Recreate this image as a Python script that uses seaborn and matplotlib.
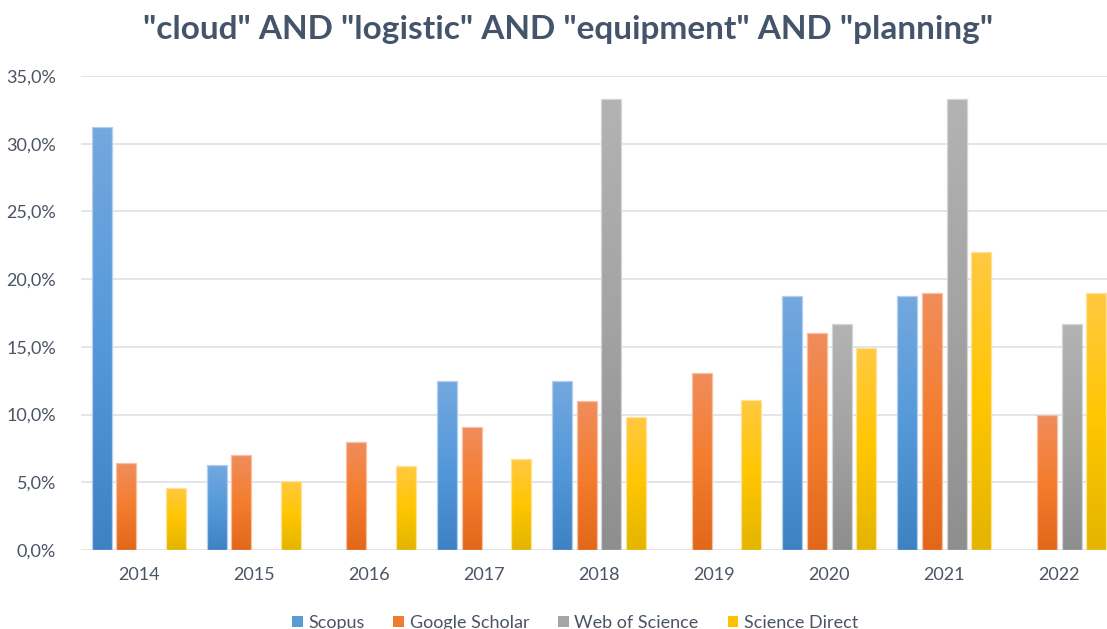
import numpy as np
import pandas as pd
import matplotlib
matplotlib.use("Agg")
import matplotlib.pyplot as plt
import seaborn as sns
from matplotlib.colors import LinearSegmentedColormap, to_rgb
from matplotlib.patches import Patch
from matplotlib.ticker import FuncFormatter, MultipleLocator

# ---- data (percent) ----
years = ["2014", "2015", "2016", "2017", "2018", "2019", "2020", "2021", "2022"]
scopus = [31.2, 6.25, 0, 12.5, 12.5, 0, 18.75, 18.75, 0]
google_scholar = [6.4, 7.0, 8.0, 9.1, 11.0, 13.1, 16.0, 19.0, 10.0]
web_of_science = [0, 0, 0, 0, 33.3, 0, 16.7, 33.3, 16.7]
science_direct = [4.6, 5.1, 6.2, 6.7, 9.8, 11.1, 14.9, 22.0, 19.0]
series_names = ["Scopus", "Google Scholar", "Web of Science", "Science Direct"]
title = '"cloud" AND "logistic" AND "equipment" AND "planning"'

df = pd.DataFrame({"year": years, "Scopus": scopus, "Google Scholar": google_scholar,
                   "Web of Science": web_of_science, "Science Direct": science_direct})
long = df.melt(id_vars="year", var_name="source", value_name="value")

base_colors = ["#5B9BD5", "#ED7D31", "#A5A5A5", "#FFC000"]
gradients = [
    ["#74A8DE", "#5599DA", "#3E82C3"],
    ["#F08D5C", "#F47D2E", "#E2671A"],
    ["#B3B3B3", "#A3A3A3", "#8E8E8E"],
    ["#FFC942", "#FFC600", "#E3B500"],
]

sns.set_style("white")
plt.rcParams["font.family"] = ["Lato", "DejaVu Sans"]

fig = plt.figure(figsize=(11.07, 6.29), dpi=100)
ax = fig.add_axes([81 / 1107, 79 / 629, 1036 / 1107, 474 / 629])

sns.barplot(data=long, x="year", y="value", hue="source", hue_order=series_names,
            palette=base_colors, width=0.858, gap=0.19, legend=False, ax=ax,
            errorbar=None)

# gradient fill like the original office chart
for ci, cont in enumerate(ax.containers):
    cmap = LinearSegmentedColormap.from_list("g%d" % ci, gradients[ci][::-1])
    grad = np.linspace(0, 1, 256).reshape(-1, 1)
    top = np.array(to_rgb(gradients[ci][0]))
    edge = tuple(top + (1 - top) * 0.45)
    for bar in cont:
        h = bar.get_height()
        if h <= 0:
            bar.set_visible(False)
            continue
        x0 = bar.get_x()
        w = bar.get_width()
        im = ax.imshow(grad, cmap=cmap, extent=[x0, x0 + w, 0, h], origin="lower",
                       aspect="auto", zorder=1.5, interpolation="bilinear")
        im.set_clip_path(bar)
        bar.set_facecolor("none")
        bar.set_edgecolor(edge)
        bar.set_linewidth(0.9)
        bar.set_zorder(2)

ax.set_xlim(-0.5, 8.5)
ax.set_ylim(0, 35)
ax.yaxis.set_major_locator(MultipleLocator(5))
ax.yaxis.set_major_formatter(FuncFormatter(lambda v, p: f"{v:.1f}%".replace(".", ",")))
ax.set_axisbelow(True)
ax.yaxis.grid(True, color="#DDE1E6", linewidth=1.2)
ax.xaxis.grid(False)
for s in ax.spines.values():
    s.set_visible(False)
ax.set_xlabel("")
ax.set_ylabel("")
ax.tick_params(axis="both", length=0, labelsize=13, colors="#595959")
ax.tick_params(axis="y", pad=18)
ax.tick_params(axis="x", pad=12)
for lab in ax.get_xticklabels() + ax.get_yticklabels():
    lab.set_color("#4A5464")

fig.text(568 / 1107, 1 - 30 / 629, title, ha="center", va="center", fontsize=24,
         fontweight="bold", color="#44546A")

handles = [Patch(facecolor=c, edgecolor="none") for c in base_colors]
fig.legend(handles, series_names, loc="center", bbox_to_anchor=(575 / 1107, 6 / 629),
           ncol=4, frameon=False, fontsize=13, handlelength=0.6, handleheight=0.6,
           handletextpad=0.3, columnspacing=1.6, labelcolor="#4A5464")

fig.savefig("out.png", dpi=100)
